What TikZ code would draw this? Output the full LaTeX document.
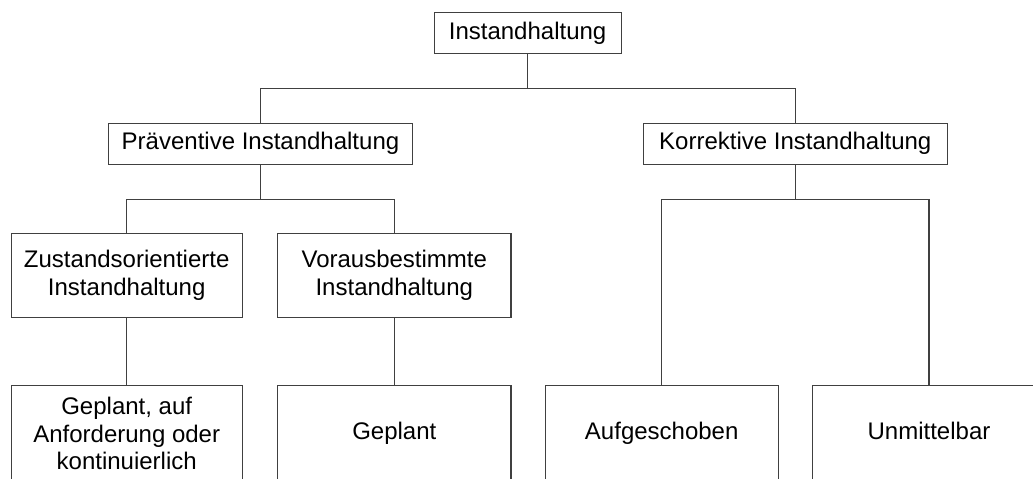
\documentclass[tikz,border=0pt]{standalone}
\usepackage{fontspec}
\setmainfont{Liberation Sans}
\begin{document}
\begin{tikzpicture}[x=1pt,y=-1pt,
  box/.style={draw=black!75, line width=1.1pt, inner sep=0pt, align=center,
    font=\fontsize{24}{27.5}\selectfont, text=black},
  onebox/.style={box, text height=17.3pt, text depth=5pt},
  conn/.style={draw=black!75, line width=1.1pt}]
\useasboundingbox (0,0) rectangle (1033,479);
\clip (0,0) rectangle (1033,479);
\node[onebox, minimum width=187pt, minimum height=41.5pt] (top) at (527.6,33) {Instandhaltung};
\node[onebox, minimum width=304.4pt, minimum height=41.3pt] (prae) at (260.5,143.7) {Präventive Instandhaltung};
\node[onebox, minimum width=304pt, minimum height=41.3pt] (korr) at (795.3,143.7) {Korrektive Instandhaltung};
\node[box, minimum width=231.3pt, minimum height=83.7pt] (zust) at (126.7,275.2) {Zustandsorientierte\\Instandhaltung};
\node[box, minimum width=233.3pt, minimum height=83.7pt] (vor) at (394.3,275.2) {Vorausbestimmte\\Instandhaltung};
\node[box, minimum width=231.3pt, minimum height=96pt] (gpa) at (126.7,433.7) {Geplant, auf\\Anforderung oder\\kontinuierlich};
\node[onebox, minimum width=233.3pt, minimum height=96pt] (gp) at (394.3,433.7) {Geplant};
\node[onebox, minimum width=233.3pt, minimum height=96pt] (auf) at (661.7,433.7) {Aufgeschoben};
\node[onebox, minimum width=233.3pt, minimum height=96pt] (unm) at (929,433.7) {Unmittelbar};
\coordinate (j1) at (527.6,88.3);
\coordinate (j2) at (260.5,199.3);
\coordinate (j3) at (795.3,199.3);
\draw[conn] (top.south) -- (j1);
\draw[conn] (prae.north) |- (j1) -| (korr.north);
\draw[conn] (prae.south) -- (j2);
\draw[conn] (zust.north) |- (j2) -| (vor.north);
\draw[conn] (korr.south) -- (j3);
\draw[conn] (auf.north) |- (j3) -| (unm.north);
\draw[conn] (zust.south) -- (gpa.north);
\draw[conn] (vor.south) -- (gp.north);
\end{tikzpicture}
\end{document}
